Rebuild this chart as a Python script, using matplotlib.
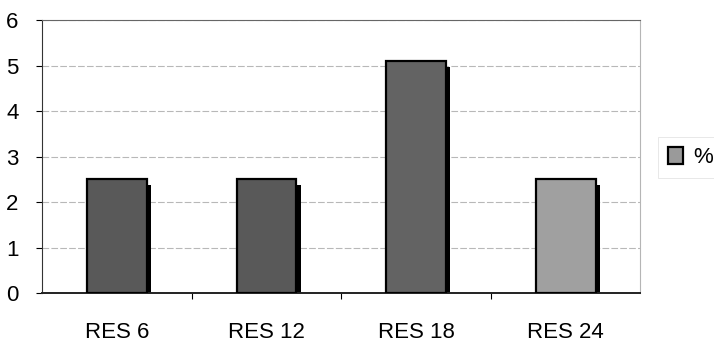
import matplotlib.pyplot as plt
from matplotlib.patches import Patch
from matplotlib.ticker import FixedLocator

plt.rcParams['font.family'] = ['Liberation Sans', 'DejaVu Sans']

labels = ['RES 6', 'RES 12', 'RES 18', 'RES 24']
values = [2.5, 2.5, 5.1, 2.5]
colors = ['#595959', '#595959', '#636363', '#a0a0a0']

fig = plt.figure(figsize=(7.14, 3.42), dpi=100)
ax = fig.add_axes([0.059, 0.143, 0.838, 0.798])

x = list(range(len(labels)))
w = 0.4
# drop shadow behind each bar
ax.bar([i + 0.03 for i in x], [v - 0.12 for v in values], width=w,
       color='black', zorder=2)
ax.bar(x, values, width=w, color=colors, edgecolor='black',
       linewidth=1.6, zorder=3)

ax.set_xlim(-0.5, len(labels) - 0.5)
ax.set_ylim(0, 6)
ax.set_yticks(range(7))
ax.set_xticks(x)
ax.set_xticklabels(labels)
ax.xaxis.set_minor_locator(FixedLocator([i + 0.5 for i in range(len(labels) - 1)]))
ax.tick_params(axis='x', which='major', length=0, pad=21, labelsize=16)
ax.tick_params(axis='x', which='minor', length=4, width=0.8, direction='out')
ax.tick_params(axis='y', length=4, width=0.8, pad=13, labelsize=16)

ax.yaxis.grid(True, color='#b8b8b8', linewidth=0.8, linestyle=(0, (6, 2)))
ax.set_axisbelow(True)

for side in ['top', 'right']:
    ax.spines[side].set_linewidth(0.8)
    ax.spines[side].set_linestyle((0, (3, 1)))
ax.spines['top'].set_color('#666666')
ax.spines['right'].set_color('#b5b5b5')
ax.spines['left'].set_color('#333333')
ax.spines['bottom'].set_color('#222222')
ax.spines['bottom'].set_linewidth(1.4)

handle = Patch(facecolor='#9a9a9a', edgecolor='black', linewidth=1.6)
leg = fig.legend([handle], ['%'], loc='center left',
                 bbox_to_anchor=(0.922, 0.54), fontsize=16,
                 handlelength=0.65, handleheight=0.8, handletextpad=0.45,
                 frameon=True, fancybox=False, borderpad=0.45,
                 borderaxespad=0.0)
leg.get_frame().set_edgecolor('#dddddd')
leg.get_frame().set_linewidth(0.6)

fig.savefig('out.png', dpi=100)
